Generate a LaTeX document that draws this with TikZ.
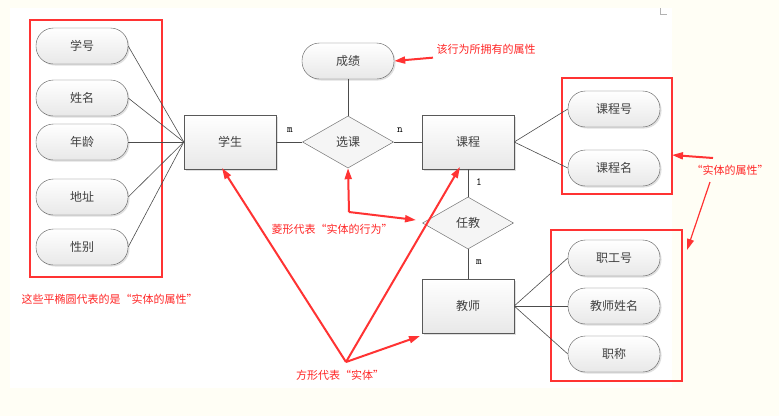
\documentclass[tikz,border=0pt]{standalone}
\usepackage{fontspec}
\setmainfont{Noto Sans CJK SC}
\usetikzlibrary{shapes.geometric,arrows.meta,shadows}
\begin{document}
\begin{tikzpicture}[x=1pt,y=-1pt,
  attr/.style={draw=gray!70!black,rounded corners=17.5pt,minimum width=92pt,minimum height=36pt,top color=white,bottom color=gray!18,font=\fontsize{12}{14}\selectfont,text=black!75,drop shadow={opacity=0.25,shadow xshift=1.5pt,shadow yshift=-1.5pt}},
  ent/.style={draw=gray!70!black,minimum width=92pt,minimum height=54pt,top color=white,bottom color=gray!18,font=\fontsize{12}{14}\selectfont,text=black!75,drop shadow={opacity=0.25,shadow xshift=1.5pt,shadow yshift=-1.5pt}},
  rel/.style={draw=gray!70!black,diamond,aspect=1.75,minimum width=91pt,minimum height=52pt,inner sep=0pt,fill=gray!8,font=\fontsize{12}{14}\selectfont,text=black!75},
  ln/.style={draw=gray!60!black,line width=0.6pt},
  card/.style={font=\ttfamily\fontsize{11}{12}\selectfont},
  rbox/.style={draw=red!80,line width=2.5pt},
  rtext/.style={text=red!85,font=\fontsize{11}{13}\selectfont},
  rarr/.style={draw=red!80,line width=2pt,-{Triangle[length=11pt,width=7pt]}},
  rthin/.style={draw=red!80,line width=1.2pt,-{Triangle[length=11pt,width=7pt]}}]
\useasboundingbox (0,0) rectangle (779,416);
\fill[yellow!4] (0,0) rectangle (779,416);
\fill[white] (10,8) rectangle (672,388);
\draw[gray!60] (660,8) -- (660,14) -- (667,14);
% red boxes
\draw[rbox] (30,20) rectangle (162,277);
\draw[rbox] (562,78) rectangle (672,194);
\draw[rbox] (551,230) rectangle (682,381);
% nodes
\node[attr] (xh) at (82,46) {学号};
\node[attr] (xm) at (82,98) {姓名};
\node[attr] (nl) at (82,142) {年龄};
\node[attr] (dz) at (82,197) {地址};
\node[attr] (xb) at (82,247) {性别};
\node[ent] (xs) at (230,142) {学生};
\node[rel] (xk) at (348,142) {选课};
\node[attr] (cj) at (348,61) {成绩};
\node[ent] (kc) at (468,142) {课程};
\node[attr] (kch) at (614,109) {课程号};
\node[attr] (kcm) at (614,168) {课程名};
\node[rel] (rj) at (468,223) {任教};
\node[ent] (js) at (468,306) {教师};
\node[attr] (zgh) at (614,258) {职工号};
\node[attr] (jsxm) at (614,306) {教师姓名};
\node[attr] (zc) at (614,354) {职称};
% connectors
\foreach \a in {xh,xm,nl,dz,xb} \draw[ln] (\a.east) -- (xs.west);
\draw[ln] (xs) -- (xk);
\draw[ln] (xk) -- (kc);
\draw[ln] (xk) -- (cj);
\draw[ln] (kc.east) -- (kch.west);
\draw[ln] (kc.east) -- (kcm.west);
\draw[ln] (kc) -- (rj);
\draw[ln] (rj) -- (js);
\foreach \a in {zgh,jsxm,zc} \draw[ln] (js.east) -- (\a.west);
\node[card] (c1) at (290,130) {m};
\node[card] (c2) at (400,130) {n};
\node[card] (c3) at (479,182) {1};
\node[card] (c4) at (479,262) {m};
% red annotations
\node[rtext,anchor=west] (t1) at (433,49) {该行为所拥有的属性};
\draw[rarr] (t1.south west) -- (cj.east);
\node[rtext] (t2) at (730,170) {“实体的属性”};
\coordinate (t2a) at (713,158);
\coordinate (t2b) at (710,182);
\coordinate (b2) at (672,155);
\coordinate (b3) at (687,250);
\draw[rarr] (t2a) -- (b2);
\draw[rthin] (t2b) -- (b3);
\node[rtext] (t3) at (332,229) {菱形代表“实体的行为”};
\coordinate (j3) at (349,212);
\coordinate (e3) at (416,220);
\draw[rarr] (j3) -- (xk.south);
\draw[rarr] (j3) -- (e3);
\node[rtext,anchor=west] (t4) at (18,299) {这些平椭圆代表的是“实体的属性”};
\node[rtext] (t5) at (340,375) {方形代表“实体”};
\coordinate (j5) at (346,362);
\coordinate (e5) at (420,336);
\draw[rarr] (j5) -- (222,168);
\draw[rarr] (j5) -- (460,167);
\draw[rarr] (j5) -- (e5);
\end{tikzpicture}
\end{document}
